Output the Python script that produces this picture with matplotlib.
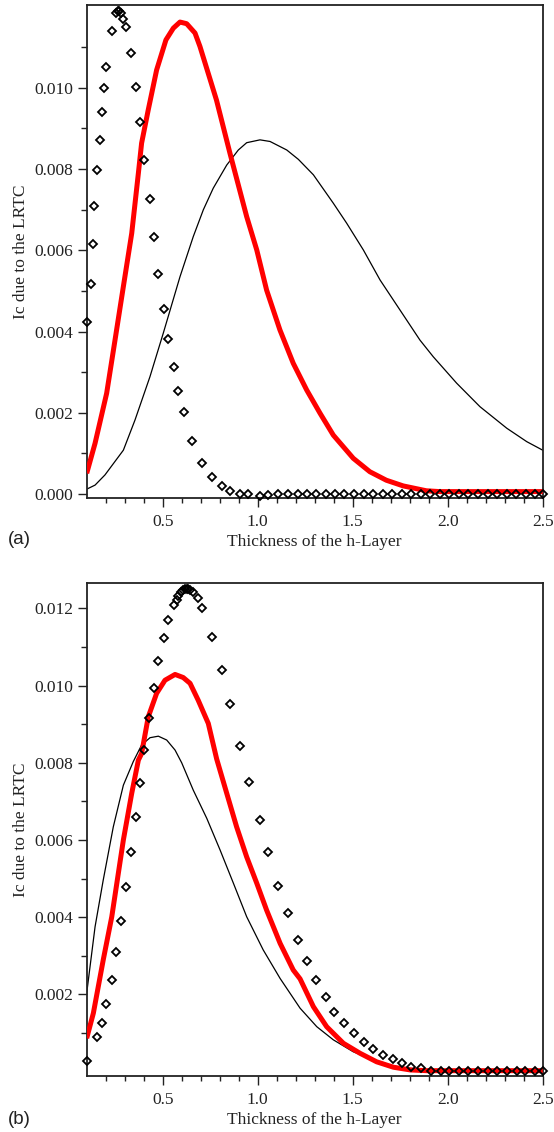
import matplotlib
matplotlib.use('Agg')
import matplotlib.pyplot as plt
from matplotlib.ticker import FixedLocator, NullFormatter

plt.rcParams['font.family'] = ['Liberation Serif', 'DejaVu Serif']

# ---------------- panel (a) ----------------
a_line_x = [0.100, 0.144, 0.196, 0.293, 0.354, 0.433, 0.503, 0.591, 0.661, 0.714,
            0.766, 0.837, 0.898, 0.942, 1.012, 1.065, 1.153, 1.214, 1.293, 1.398,
            1.468, 1.556, 1.644, 1.749, 1.854, 1.924, 2.047, 2.170, 2.311, 2.416, 2.500]
a_line_y = [0.00012, 0.00022, 0.00047, 0.00108, 0.00182, 0.00289, 0.00396, 0.00535, 0.00634, 0.00700,
            0.00753, 0.00810, 0.00847, 0.00865, 0.00872, 0.00868, 0.00847, 0.00824, 0.00786, 0.00716,
            0.00667, 0.00601, 0.00527, 0.00453, 0.00379, 0.00338, 0.00273, 0.00215, 0.00162, 0.00129, 0.00108]

a_red_x = [0.100, 0.144, 0.205, 0.249, 0.293, 0.337, 0.372, 0.389, 0.424, 0.468,
           0.517, 0.556, 0.591, 0.626, 0.670, 0.696, 0.783, 0.854, 0.942, 0.995,
           1.047, 1.117, 1.187, 1.258, 1.328, 1.398, 1.503, 1.590, 1.677, 1.766,
           1.888, 1.959, 2.100, 2.300, 2.500]
a_red_y = [0.00051, 0.00125, 0.00248, 0.00379, 0.00511, 0.00642, 0.00790, 0.00864, 0.00946, 0.01044,
           0.01118, 0.01147, 0.01162, 0.01158, 0.01135, 0.01102, 0.00970, 0.00839, 0.00683, 0.00601,
           0.00502, 0.00404, 0.00322, 0.00256, 0.00199, 0.00145, 0.00088, 0.00055, 0.00034, 0.00020,
           0.00008, 0.00006, 0.00006, 0.00006, 0.00006]

a_pts_x = [0.103, 0.121, 0.135, 0.140, 0.156, 0.170, 0.179, 0.193, 0.200, 0.232,
           0.254, 0.263, 0.272, 0.281, 0.289, 0.305, 0.335, 0.358, 0.379, 0.402,
           0.432, 0.454, 0.475, 0.505, 0.528, 0.558, 0.579, 0.610, 0.654, 0.707,
           0.758, 0.811, 0.856, 0.905, 0.951, 1.012, 1.056, 1.109, 1.161, 1.211,
           1.258, 1.307, 1.360, 1.407, 1.456, 1.509, 1.560, 1.606, 1.658, 1.709,
           1.761, 1.807, 1.858, 1.907, 1.960, 2.007, 2.060, 2.109, 2.161, 2.211,
           2.258, 2.311, 2.360, 2.411, 2.460, 2.500]
a_pts_y = [0.00424, 0.00517, 0.00615, 0.00708, 0.00798, 0.00872, 0.00941, 0.01000, 0.01052, 0.01139,
           0.01185, 0.01188, 0.01188, 0.01184, 0.01170, 0.01150, 0.01087, 0.01003, 0.00916, 0.00823,
           0.00726, 0.00632, 0.00542, 0.00455, 0.00382, 0.00312, 0.00254, 0.00201, 0.00131, 0.00076,
           0.00041, 0.00020, 0.00007, 0.00000, 0.00000, -0.00005, -0.00002, 0.00000, 0.00000, 0.00000,
           0.00000, 0.00000, 0.00000, 0.00000, 0.00000, 0.00000, 0.00000, 0.00000, 0.00000, 0.00000,
           0.00000, 0.00000, 0.00000, 0.00000, 0.00000, 0.00000, 0.00000, 0.00000, 0.00000, 0.00000,
           0.00000, 0.00000, 0.00000, 0.00000, 0.00000, 0.00000]

# ---------------- panel (b) ----------------
b_line_x = [0.100, 0.144, 0.187, 0.240, 0.293, 0.345, 0.389, 0.433, 0.477, 0.521,
            0.565, 0.600, 0.661, 0.732, 0.802, 0.872, 0.942, 1.029, 1.118, 1.223,
            1.311, 1.398, 1.503, 1.609, 1.714, 1.802, 1.950, 2.200, 2.500]
b_line_y = [0.00203, 0.00375, 0.00496, 0.00634, 0.00742, 0.00803, 0.00846, 0.00865, 0.00869, 0.00859,
            0.00833, 0.00800, 0.00729, 0.00656, 0.00574, 0.00488, 0.00401, 0.00315, 0.00241, 0.00164,
            0.00116, 0.00082, 0.00051, 0.00030, 0.00014, 0.00008, 0.00003, 0.00002, 0.00002]

b_red_x = [0.100, 0.135, 0.187, 0.232, 0.293, 0.337, 0.372, 0.389, 0.424, 0.468,
           0.512, 0.565, 0.608, 0.644, 0.687, 0.740, 0.784, 0.837, 0.889, 0.942,
           0.995, 1.047, 1.118, 1.187, 1.223, 1.293, 1.363, 1.451, 1.539, 1.626,
           1.714, 1.802, 1.889, 2.100, 2.300, 2.500]
b_red_y = [0.00086, 0.00151, 0.00289, 0.00401, 0.00600, 0.00721, 0.00807, 0.00824, 0.00919, 0.00980,
           0.01014, 0.01029, 0.01021, 0.01006, 0.00962, 0.00902, 0.00810, 0.00721, 0.00634, 0.00556,
           0.00488, 0.00418, 0.00332, 0.00263, 0.00240, 0.00168, 0.00116, 0.00073, 0.00047, 0.00025,
           0.00011, 0.00004, 0.00002, 0.00002, 0.00002, 0.00002]

b_pts_x = [0.103, 0.156, 0.179, 0.200, 0.232, 0.253, 0.282, 0.307, 0.333, 0.358,
           0.379, 0.402, 0.430, 0.454, 0.477, 0.507, 0.528, 0.560, 0.574, 0.582,
           0.595, 0.608, 0.617, 0.626, 0.635, 0.644, 0.658, 0.684, 0.707, 0.760,
           0.811, 0.856, 0.907, 0.953, 1.012, 1.056, 1.107, 1.159, 1.212, 1.258,
           1.308, 1.359, 1.404, 1.456, 1.507, 1.561, 1.605, 1.658, 1.711, 1.761,
           1.805, 1.858, 1.911, 1.963, 2.005, 2.058, 2.108, 2.161, 2.211, 2.258,
           2.311, 2.363, 2.408, 2.461, 2.500]
b_pts_y = [0.00028, 0.00090, 0.00126, 0.00174, 0.00236, 0.00309, 0.00389, 0.00477, 0.00569, 0.00660,
           0.00747, 0.00832, 0.00916, 0.00993, 0.01063, 0.01124, 0.01171, 0.01208, 0.01223, 0.01233,
           0.01242, 0.01249, 0.01251, 0.01251, 0.01250, 0.01247, 0.01243, 0.01226, 0.01201, 0.01127,
           0.01040, 0.00952, 0.00843, 0.00751, 0.00652, 0.00569, 0.00481, 0.00411, 0.00341, 0.00287,
           0.00236, 0.00192, 0.00155, 0.00126, 0.00099, 0.00076, 0.00058, 0.00042, 0.00032, 0.00021,
           0.00012, 0.00008, 0.00002, 0.00002, 0.00000, 0.00000, 0.00000, 0.00000, 0.00000, 0.00000,
           0.00000, 0.00000, 0.00000, 0.00000, 0.00000]

x_major = [0.5, 1.0, 1.5, 2.0, 2.5]
x_minor = [0.2, 0.3, 0.4, 0.6, 0.7, 0.8, 0.9, 1.1, 1.2, 1.3, 1.4, 1.6, 1.7, 1.8, 1.9,
           2.1, 2.2, 2.3, 2.4]
a_y_major = [0.000, 0.002, 0.004, 0.006, 0.008, 0.010]
a_y_minor = [0.001, 0.003, 0.005, 0.007, 0.009, 0.011]
b_y_major = [0.002, 0.004, 0.006, 0.008, 0.010, 0.012]
b_y_minor = [0.001, 0.003, 0.005, 0.007, 0.009, 0.011]

fig = plt.figure(figsize=(5.54, 11.32), dpi=100)
W, H = 554.0, 1132.0

def panel(rect, lx, ly, rx, ry, px, py, ylim, ymaj, ymin, letter, letter_y):
    ax = fig.add_axes(rect)
    ax.plot(lx, ly, color='black', linewidth=0.9, zorder=2)
    ax.plot(rx, ry, color='#ff0000', linewidth=3.6, zorder=3, solid_capstyle='butt')
    ax.plot(px, py, linestyle='none', marker='D', markersize=3.6, markerfacecolor='none',
            markeredgecolor='black', markeredgewidth=1.3, zorder=4, clip_on=False)
    ax.set_xlim(0.1, 2.5)
    ax.set_ylim(*ylim)
    ax.xaxis.set_major_locator(FixedLocator(x_major))
    ax.xaxis.set_minor_locator(FixedLocator(x_minor))
    ax.yaxis.set_major_locator(FixedLocator(ymaj))
    ax.yaxis.set_minor_locator(FixedLocator(ymin))
    ax.set_xticklabels(['0.5', '1.0', '1.5', '2.0', '2.5'])
    ax.set_yticklabels(['%.3f' % v for v in ymaj])
    ax.xaxis.set_minor_formatter(NullFormatter())
    ax.yaxis.set_minor_formatter(NullFormatter())
    ax.tick_params(axis='both', which='major', direction='out', length=6.5, width=1.0,
                   labelsize=12.5, colors='#222222', pad=3)
    ax.tick_params(axis='x', which='major', pad=5)
    ax.tick_params(axis='x', which='minor', direction='out', length=3.5, width=1.0, colors='#222222')
    ax.tick_params(axis='y', which='minor', direction='out', length=4.5, width=1.0, colors='#222222')
    for s in ax.spines.values():
        s.set_linewidth(1.3)
        s.set_color('#222222')
    ax.set_xlabel('Thickness of the h-Layer', fontsize=12.5, color='#222222', labelpad=3)
    ax.set_ylabel('Ic due to the LRTC', fontsize=12.5, color='#222222', labelpad=4)
    fig.text(8 / W, 1 - letter_y / H, letter, fontsize=13.5, family=['Liberation Sans', 'DejaVu Sans'],
             color='#222222', va='center', ha='left')
    return ax

ax1 = panel([86.7 / W, 1 - 497.7 / H, 456.0 / W, 492.7 / H],
            a_line_x, a_line_y, a_red_x, a_red_y, a_pts_x, a_pts_y,
            (-0.00009, 0.01204), a_y_major, a_y_minor, '(a)', 539)
ax2 = panel([86.7 / W, 1 - 1075.7 / H, 456.0 / W, 492.7 / H],
            b_line_x, b_line_y, b_red_x, b_red_y, b_pts_x, b_pts_y,
            (-0.00011, 0.01266), b_y_major, b_y_minor, '(b)', 1119)

fig.savefig('out.png', dpi=100)
